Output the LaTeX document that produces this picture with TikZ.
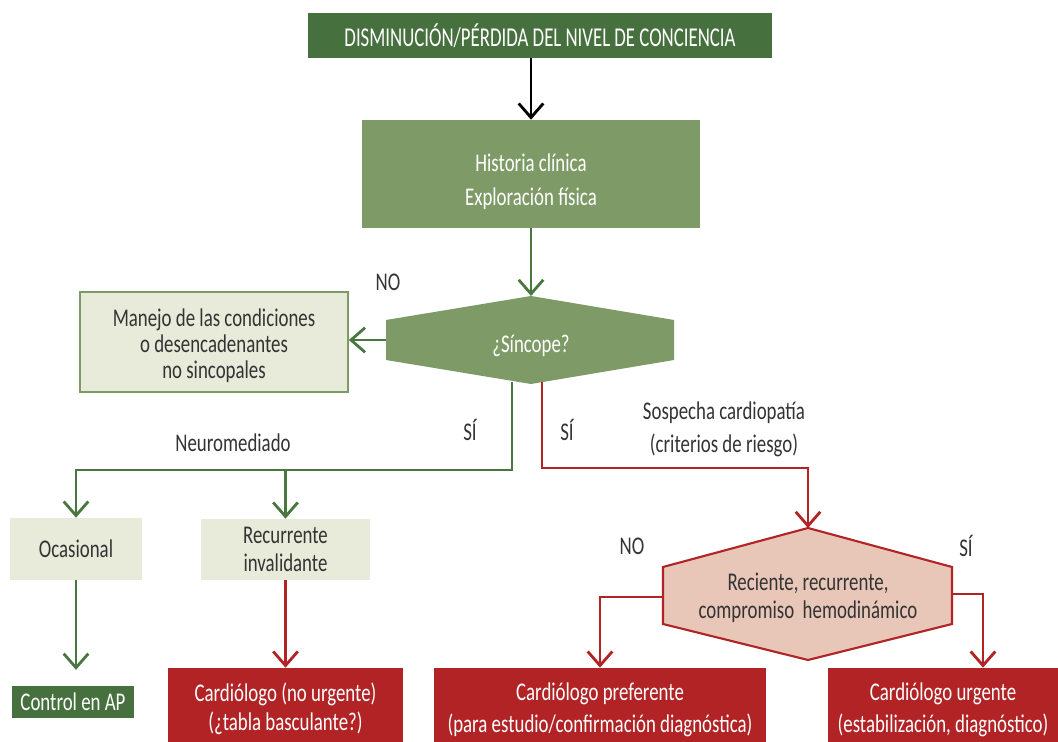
\documentclass[tikz,border=0pt]{standalone}
\usepackage{fontspec}
\setmainfont{Carlito}[FakeStretch=0.74]
\newfontfamily\fuentetitulo{Carlito}[FakeStretch=0.69]
\usetikzlibrary{arrows.meta}
\definecolor{verdeosc}{HTML}{46703E}
\definecolor{verdemed}{HTML}{7E9B67}
\definecolor{verdeclaro}{HTML}{E8EBD9}
\definecolor{verdeflecha}{HTML}{4A7640}
\definecolor{rojo}{HTML}{B12325}
\definecolor{rosa}{HTML}{E8C7B9}
\definecolor{texto}{HTML}{333333}
\newcommand{\cuerpo}[1]{\fontsize{14.5}{#1}\selectfont}
\newcommand{\bajar}[1]{\rule{0pt}{#1}}
\tikzset{
  caja/.style={inner sep=0pt, align=center, font=\cuerpo{19}},
  oscura/.style={caja, fill=#1, text=white},
  clara/.style={caja, fill=verdeclaro, text=texto},
  etiqueta/.style={text=texto, inner sep=0pt, align=center, font=\cuerpo{19}},
  linea/.style={line width=1.6pt, draw=#1},
  flecha/.style={linea=#1, -{Straight Barb[length=8pt,width=14pt,line width=1.6pt]}},
}
\begin{document}
\begin{tikzpicture}[x=0.02cm, y=-0.02cm]
\useasboundingbox (0,0) rectangle (1058,742);

% cajas
\node[oscura=verdeosc, minimum width=9.28cm, minimum height=0.9cm, font=\fuentetitulo\fontsize{15.5}{19}\selectfont] (titulo) at (540,35.5) {DISMINUCIÓN/PÉRDIDA DEL NIVEL DE CONCIENCIA};
\node[oscura=verdemed, minimum width=6.76cm, minimum height=2.16cm] (historia) at (531,174) {\bajar{19pt}Historia clínica\\Exploración física};
\node[clara, draw=verdemed, line width=1pt, minimum width=5.36cm, minimum height=2cm, font=\cuerpo{14.8}] (manejo) at (214,342) {\bajar{14pt}Manejo de las condiciones\\o desencadenantes\\no sincopales};
\node[clara, minimum width=2.64cm, minimum height=1.24cm] (ocasional) at (76,549) {Ocasional};
\node[clara, minimum width=3.38cm, minimum height=1.22cm, font=\cuerpo{16.4}] (recurrente) at (285.5,549.5) {Recurrente\\invalidante};
\node[oscura=verdeosc, minimum width=2.44cm, minimum height=0.64cm] (control) at (73,702) {Control en AP};
\node[oscura=rojo, minimum width=4.7cm, minimum height=1.48cm, font=\cuerpo{17}] (nourg) at (285.5,705) {\bajar{15pt}Cardiólogo (no urgente)\\(¿tabla basculante?)};
\node[oscura=rojo, minimum width=6.64cm, minimum height=1.48cm, font=\cuerpo{18.1}] (prefer) at (600,705) {\bajar{16pt}Cardiólogo preferente\\(para estudio/confirmación diagnóstica)};
\node[oscura=rojo, minimum width=4.6cm, minimum height=1.48cm, font=\cuerpo{18.1}] (urgente) at (943,705) {\bajar{16pt}Cardiólogo urgente\\(estabilización, diagnóstico)};

% rombos
\coordinate (s1) at (531,296);
\coordinate (sizq) at (386,340);
\coordinate (sverde) at (512,382);
\coordinate (srojo) at (542,382);
\fill[verdemed] (s1) -- (386,320) -- (386,360) -- (531,384) -- (674,360) -- (674,320) -- cycle;
\node[caja, text=white] (sincope) at (531,346) {¿Síncope?};

\coordinate (r1) at (808,528);
\coordinate (rizq) at (663,597);
\coordinate (rder) at (952,594);
\draw[rojo, fill=rosa, line width=1.2pt, line join=miter] (r1) -- (663,567) -- (663,624) -- (808,660) -- (952,624) -- (952,567) -- cycle;
\node[caja, text=texto, font=\cuerpo{16}] (reciente) at (808,598) {Reciente, recurrente,\\compromiso\, hemodinámico};

% conectores
\coordinate (ramaverde) at (512,470);
\coordinate (ramaroja) at (542,468);
\draw[flecha=black] (titulo.south -| historia.north) -- (historia.north);
\draw[flecha=verdeflecha] (historia.south) -- (s1);
\draw[flecha=verdeflecha] (sizq) -- (manejo.east |- sizq);
\draw[flecha=verdeflecha] (sverde) |- (ocasional.north |- ramaverde) -- (ocasional.north);
\draw[flecha=verdeflecha] (recurrente.north |- ramaverde) -- (recurrente.north);
\draw[flecha=verdeflecha, shorten >=9pt] (ocasional.south) -- (ocasional.south |- control.north);
\draw[flecha=rojo] (recurrente.south) -- (nourg.north);
\draw[flecha=rojo] (srojo) -- (ramaroja) -| (r1);
\draw[flecha=rojo] (rizq) -| (prefer.north);
\draw[flecha=rojo] (rder) -| ([xshift=0.8cm]urgente.north);

% etiquetas
\node[etiqueta] (no1) at (388,282) {NO};
\node[etiqueta] (si1) at (470,430) {SÍ};
\node[etiqueta] (si2) at (567,430) {SÍ};
\node[etiqueta] (neuro) at (233,443) {Neuromediado};
\node[etiqueta, font=\cuerpo{18.7}] (sospecha) at (724,429) {Sospecha cardiopatía\\(criterios de riesgo)};
\node[etiqueta] (no2) at (632,546) {NO};
\node[etiqueta] (si3) at (966,546) {SÍ};
\end{tikzpicture}
\end{document}
